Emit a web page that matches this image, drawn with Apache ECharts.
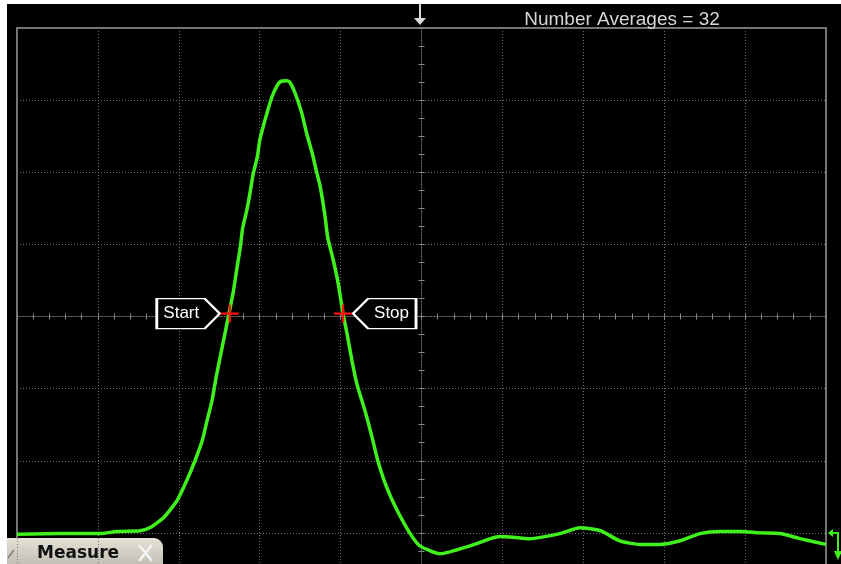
<!DOCTYPE html>
<html>
<head>
<meta charset="utf-8">
<title>Number Averages</title>
<script src="https://cdn.jsdelivr.net/npm/echarts@6/dist/echarts.min.js"></script>
<style>
  body { margin: 0; background: #fff; }
  #chart { position: absolute; left: 7px; top: 4px; width: 834px; height: 560px; background: #000; }
</style>
</head>
<body>
<div id="chart"></div>
<script>
// trace, in screen divisions from centre (x: -5..5, y: -4..4)
var traceX = [-5, -4.47, -3.97, -3.76, -3.48, -3.36, -3.19, -3.02, -2.90, -2.80,
  -2.71, -2.65, -2.59, -2.54, -2.49, -2.43, -2.38, -2.33, -2.28, -2.24,
  -2.21, -2.16, -2.12, -2.08, -2.03, -2.00, -1.96, -1.90, -1.85, -1.79,
  -1.74, -1.67, -1.63, -1.56, -1.48, -1.42, -1.35, -1.30, -1.25, -1.19,
  -1.16, -1.09, -1.03, -0.97, -0.92, -0.86, -0.80, -0.70, -0.61, -0.54,
  -0.43, -0.30, -0.14, -0.02, 0.23, 0.60, 0.85, 0.97, 1.22, 1.34,
  1.71, 1.96, 2.21, 2.45, 2.70, 2.95, 3.20, 3.44, 3.69, 3.94,
  4.18, 4.43, 4.68, 5.00];
var traceY = [-3.02, -3.01, -3.01, -2.98, -2.97, -2.93, -2.79, -2.55, -2.27, -2.00,
  -1.72, -1.44, -1.17, -0.85, -0.57, -0.24, 0.04, 0.32, 0.68, 0.96,
  1.23, 1.47, 1.71, 1.98, 2.21, 2.44, 2.62, 2.86, 3.04, 3.19,
  3.26, 3.27, 3.25, 3.09, 2.82, 2.54, 2.26, 2.02, 1.79, 1.37,
  1.10, 0.78, 0.46, 0.04, -0.24, -0.61, -0.93, -1.30, -1.68, -2.00,
  -2.37, -2.69, -3.01, -3.18, -3.29, -3.18, -3.08, -3.05, -3.07, -3.08,
  -3.01, -2.93, -2.97, -3.11, -3.16, -3.16, -3.11, -3.01, -2.98, -2.98,
  -3.00, -3.01, -3.08, -3.16];
var startPt = [-2.37, 0.04];
var stopPt = [-0.97, 0.04];
var titleText = 'Number Averages = 32';

var pts = traceX.map(function (x, i) { return [x, traceY[i]]; });

var gridGray = '#6e6e6e';
var dots = [1, 2];

function xAx(pos, split) {
  return {
    type: 'value', min: -5, max: 5, interval: 1, position: pos,
    axisLabel: { show: false },
    axisLine: { show: true, onZero: true, lineStyle: { color: gridGray, type: dots } },
    axisTick: { show: true, length: 3, lineStyle: { color: '#8a8a8a' } },
    minorTick: { show: true, splitNumber: 5, length: 3, lineStyle: { color: '#8a8a8a' } },
    splitLine: { show: split, lineStyle: { color: gridGray, type: dots, width: 1 } }
  };
}
function yAx(pos, split) {
  return {
    type: 'value', min: -4, max: 4, interval: 1, position: pos,
    axisLabel: { show: false },
    axisLine: { show: true, onZero: true, lineStyle: { color: gridGray, type: dots } },
    axisTick: { show: true, length: 3, lineStyle: { color: '#8a8a8a' } },
    minorTick: { show: true, splitNumber: 4, length: 3, lineStyle: { color: '#8a8a8a' } },
    splitLine: { show: split, lineStyle: { color: gridGray, type: dots, width: 1 } }
  };
}

var crossPath = 'path://M7,0h2v16h-2z M0,7h16v2h-16z';
var startFlag = 'path://M0,0 L48,0 L63,15 L48,30 L0,30 Z';
var stopFlag = 'path://M15,0 L63,0 L63,30 L15,30 L0,15 Z';
var flagLabel = { show: true, color: '#fff', fontSize: 17, fontFamily: 'Liberation Sans, Arial, sans-serif' };
var flagStyle = { color: '#000', borderColor: '#fff', borderWidth: 2 };

var chart = echarts.init(document.getElementById('chart'));
chart.setOption({
  backgroundColor: '#000',
  animation: false,
  title: {
    text: titleText, left: 610, top: 1, textAlign: 'center',
    textStyle: { color: '#d6d6d6', fontSize: 19, fontWeight: 'normal', fontFamily: 'Liberation Sans, Arial, sans-serif' }
  },
  grid: {
    left: 10, top: 24, width: 809, height: 577,
    outerBoundsMode: 'none',
    show: true, borderColor: '#777', borderWidth: 2, backgroundColor: 'transparent'
  },
  xAxis: [xAx('bottom', true), xAx('top', false)],
  yAxis: [yAx('left', true), yAx('right', false)],
  series: [{
    type: 'line',
    data: pts,
    smooth: 0.2,
    showSymbol: false,
    lineStyle: { color: '#3ff21c', width: 3.5 },
    markPoint: {
      silent: true,
      data: [
        { coord: startPt, symbol: startFlag, symbolSize: [63, 30], symbolOffset: [-41.5, 0],
          itemStyle: flagStyle, label: Object.assign({ formatter: 'Start', offset: [-7, 0] }, flagLabel) },
        { coord: stopPt, symbol: stopFlag, symbolSize: [63, 30], symbolOffset: [41.5, 0],
          itemStyle: flagStyle, label: Object.assign({ formatter: 'Stop', offset: [7, 0] }, flagLabel) },
        { coord: startPt, symbol: crossPath, symbolSize: 18, itemStyle: { color: '#ff1010' }, label: { show: false } },
        { coord: stopPt, symbol: crossPath, symbolSize: 18, itemStyle: { color: '#ff1010' }, label: { show: false } }
      ]
    }
  }],
  graphic: [
    // trigger arrow
    { type: 'line', shape: { x1: 413, y1: 0, x2: 413, y2: 16 }, style: { stroke: '#d8d8d8', lineWidth: 2 } },
    { type: 'polygon', shape: { points: [[407, 14], [419, 14], [413, 21]] }, style: { fill: '#d8d8d8' } },
    // ground marker
    { type: 'polyline', shape: { points: [[822, 529], [831, 529], [831, 548]] }, style: { stroke: '#3ff21c', lineWidth: 2, fill: null } },
    { type: 'polygon', shape: { points: [[821, 529], [826, 525], [826, 533]] }, style: { fill: '#3ff21c' } },
    { type: 'polygon', shape: { points: [[827, 547], [835, 547], [831, 556]] }, style: { fill: '#3ff21c' } },
    // Measure tab
    { type: 'rect', shape: { x: 0, y: 534, width: 156, height: 30, r: [0, 9, 0, 0] },
      style: { fill: new echarts.graphic.LinearGradient(0, 0, 0, 1, [
        { offset: 0, color: '#e4e2d6' }, { offset: 1, color: '#bdbab0' }]) } },
    { type: 'line', shape: { x1: 1, y1: 554, x2: 7, y2: 546 }, style: { stroke: '#8a877e', lineWidth: 2 } },
    { type: 'text', x: 30, y: 550,
      style: { text: 'Measure', fill: '#111', font: 'bold 17px "DejaVu Sans", sans-serif', verticalAlign: 'middle' } },
    { type: 'line', shape: { x1: 132, y1: 541, x2: 145, y2: 557 }, style: { stroke: '#f4f4f4', lineWidth: 2.5 } },
    { type: 'line', shape: { x1: 145, y1: 541, x2: 132, y2: 557 }, style: { stroke: '#f4f4f4', lineWidth: 2.5 } }
  ]
});
</script>
</body>
</html>
